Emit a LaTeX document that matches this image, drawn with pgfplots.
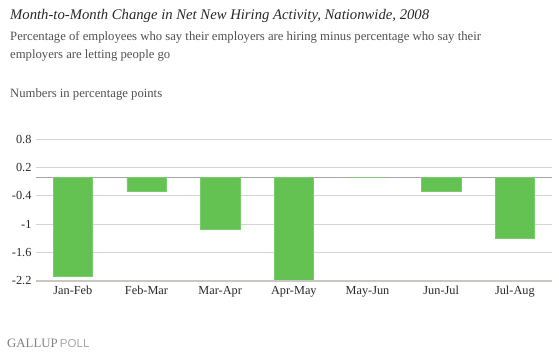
\documentclass[border=0pt]{standalone}
\usepackage{pgfplots}
\pgfplotsset{compat=1.18}
\usepackage{fontspec}
\setmainfont{Liberation Serif}
\newfontfamily\sansf{Liberation Sans}
\definecolor{bargreen}{RGB}{99,194,82}
\definecolor{gridgray}{RGB}{212,212,212}
\definecolor{zerogray}{RGB}{165,165,165}
\definecolor{axisgray}{RGB}{200,200,192}
\definecolor{txt}{RGB}{40,40,40}
\definecolor{subtxt}{RGB}{80,80,80}
\begin{document}
\begin{tikzpicture}
\path (0pt,0pt) rectangle (559pt,-353pt);
\node[anchor=base west,inner sep=0,font=\fontsize{14.7}{16}\selectfont\itshape,text=txt] at (10pt,-20pt) {Month-to-Month Change in Net New Hiring Activity, Nationwide, 2008};
\node[anchor=base west,inner sep=0,font=\fontsize{12.7}{14}\selectfont,text=subtxt] at (10pt,-41pt) {Percentage of employees who say their employers are hiring minus percentage who say their};
\node[anchor=base west,inner sep=0,font=\fontsize{12.7}{14}\selectfont,text=subtxt] at (10pt,-59pt) {employers are letting people go};
\node[anchor=base west,inner sep=0,font=\fontsize{12.7}{14}\selectfont,text=subtxt] at (10pt,-97pt) {Numbers in percentage points};
\node[anchor=base west,inner sep=0,font=\fontsize{12.8}{14}\selectfont,text=gray] at (7pt,-347pt) {GALLUP\,{\sansf\fontsize{11.6}{13}\selectfont\color{black!35}POLL}};
\begin{axis}[
  at={(36pt,-280.7pt)}, anchor=south west,
  scale only axis, width=515.7pt, height=141.4pt,
  xmin=-0.5, xmax=6.5, ymin=-2.2, ymax=0.8,
  xtick={0,1,2,3,4,5,6},
  xticklabels={Jan-Feb,Feb-Mar,Mar-Apr,Apr-May,May-Jun,Jun-Jul,Jul-Aug},
  ytick={-2.2,-1.6,-1,-0.4,0.2,0.8},
  yticklabels={-2.2,-1.6,-1,-0.4,0.2,0.8},
  extra y ticks={0}, extra y tick labels={},
  extra y tick style={grid style={zerogray,line width=0.8pt}, major tick length=0},
  ymajorgrids, grid style={gridgray,line width=0.8pt},
  major tick length=0,
  axis line style={draw=none},
  ticklabel style={font=\fontsize{12.3}{14}\selectfont,text=txt},
  yticklabel style={xshift=-1pt},
  xticklabel style={yshift=-2pt},
  clip=false,
]
\addplot[ybar, bar width=39.5pt, fill=bargreen, draw=bargreen!85!white, line width=0.4pt]
  coordinates {(0,-2.1) (1,-0.3) (2,-1.1) (3,-2.2) (4,0) (5,-0.3) (6,-1.3)};
\draw[axisgray,line width=1.8pt] (axis cs:-0.5,-2.2) -- (axis cs:6.5,-2.2);
\end{axis}
\end{tikzpicture}
\end{document}
